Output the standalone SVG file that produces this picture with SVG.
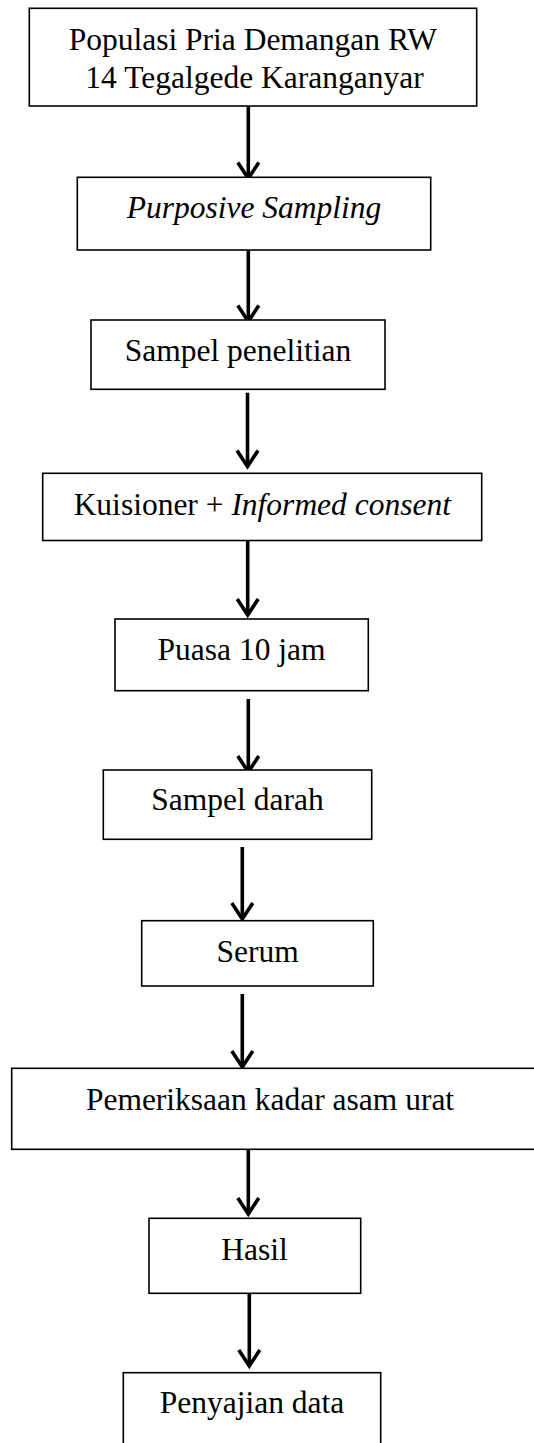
<svg xmlns="http://www.w3.org/2000/svg" width="534" height="1443" viewBox="0 0 534 1443">
<style>
  .box { fill: #ffffff; stroke: #000000; stroke-width: 1.6; }
  .lbl { font-family: "Liberation Serif", "Times New Roman", serif; font-size: 31.5px; fill: #000000; text-anchor: middle; }
  .it { font-style: italic; }
  .conn { stroke: #000000; stroke-width: 3.6; fill: none; }
  .head { stroke: #000000; stroke-width: 3.6; fill: none; stroke-linejoin: miter; }
</style>
<rect width="534" height="1443" fill="#ffffff"/>
<g id="connectors">
  <line class="conn" x1="248.3" y1="106" x2="248.3" y2="178"/>
  <polyline class="head" points="237.8,162.5 248.3,178.5 258.8,162.5"/>
  <line class="conn" x1="248.3" y1="250" x2="248.3" y2="321"/>
  <polyline class="head" points="237.8,305.5 248.3,321.5 258.8,305.5"/>
  <line class="conn" x1="247.5" y1="392.7" x2="247.5" y2="466"/>
  <polyline class="head" points="237,450.5 247.5,466.5 258,450.5"/>
  <line class="conn" x1="247.7" y1="540.7" x2="247.7" y2="615"/>
  <polyline class="head" points="237.2,599 247.7,615 258.2,599"/>
  <line class="conn" x1="248.3" y1="699" x2="248.3" y2="772"/>
  <polyline class="head" points="237.8,756 248.3,772 258.8,756"/>
  <line class="conn" x1="242.3" y1="847" x2="242.3" y2="919"/>
  <polyline class="head" points="231.8,903 242.3,919 252.8,903"/>
  <line class="conn" x1="242.3" y1="994" x2="242.3" y2="1067"/>
  <polyline class="head" points="231.8,1051 242.3,1067 252.8,1051"/>
  <line class="conn" x1="248.3" y1="1143" x2="248.3" y2="1214"/>
  <polyline class="head" points="237.8,1198 248.3,1214 258.8,1198"/>
  <line class="conn" x1="249.3" y1="1293" x2="249.3" y2="1366"/>
  <polyline class="head" points="238.8,1350 249.3,1366 259.8,1350"/>
</g>
<g id="node1">
  <rect class="box" x="29.3" y="8.3" width="447.4" height="97.7"/>
  <text class="lbl" x="252.8" y="50">Populasi Pria Demangan RW</text>
  <text class="lbl" x="254.5" y="88">14 Tegalgede Karanganyar</text>
</g>
<g id="node2">
  <rect class="box" x="77.3" y="177.3" width="353.4" height="72.7"/>
  <text class="lbl it" x="254" y="218">Purposive Sampling</text>
</g>
<g id="node3">
  <rect class="box" x="91" y="320" width="294" height="69.3"/>
  <text class="lbl" x="238" y="361">Sampel penelitian</text>
</g>
<g id="node4">
  <rect class="box" x="42.7" y="473.3" width="439" height="67.2"/>
  <text class="lbl" x="262.3" y="515">Kuisioner + <tspan class="it">Informed consent</tspan></text>
</g>
<g id="node5">
  <rect class="box" x="115" y="619" width="253.3" height="71.7"/>
  <text class="lbl" x="241.6" y="659.5">Puasa 10 jam</text>
</g>
<g id="node6">
  <rect class="box" x="103.3" y="770" width="268.4" height="69.3"/>
  <text class="lbl" x="237.5" y="810">Sampel darah</text>
</g>
<g id="node7">
  <rect class="box" x="141.7" y="920.7" width="231.6" height="65.3"/>
  <text class="lbl" x="257.6" y="961.7">Serum</text>
</g>
<g id="node8">
  <rect class="box" x="11.7" y="1068.3" width="540" height="81"/>
  <text class="lbl" x="270" y="1110">Pemeriksaan kadar asam urat</text>
</g>
<g id="node9">
  <rect class="box" x="149" y="1218.3" width="211.7" height="75"/>
  <text class="lbl" x="254.5" y="1259.5">Hasil</text>
</g>
<g id="node10">
  <rect class="box" x="123.3" y="1372.7" width="257.4" height="90"/>
  <text class="lbl" x="252" y="1413.3">Penyajian data</text>
</g>
</svg>
